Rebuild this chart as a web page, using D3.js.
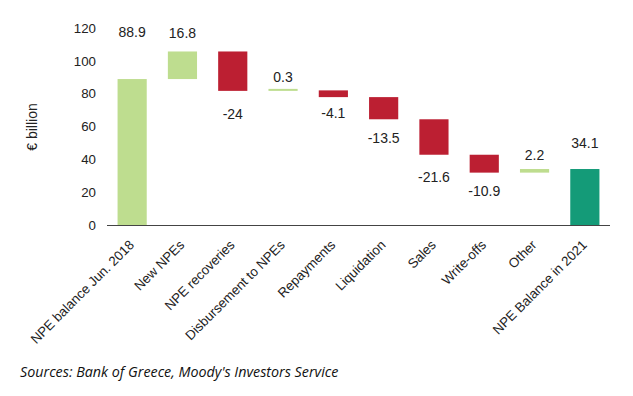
<!DOCTYPE html>
<html>
<head>
<meta charset="utf-8">
<script src="https://cdn.jsdelivr.net/npm/d3@7"></script>
<style>
  body { margin: 0; background: #fff; }
</style>
</head>
<body>
<svg id="chart"></svg>
<script>
var categories = ["NPE balance Jun. 2018", "New NPEs", "NPE recoveries", "Disbursement to NPEs",
  "Repayments", "Liquidation", "Sales", "Write-offs", "Other", "NPE Balance in 2021"];

// change per step, first and last are totals
var values = [88.9, 16.8, -24, 0.3, -4.1, -13.5, -21.6, -10.9, 2.2, 34.1];
var kinds = ["total", "up", "down", "up", "down", "down", "down", "down", "up", "end"];

// where the data labels sit, in € billion
var labelAt = [117.6, 117.1, 67.4, 90.2, 68, 53.2, 29.4, 20.7, 42.6, 49.8];

var yTicks = [0, 20, 40, 60, 80, 100, 120];

var colors = { total: "#bedd8f", up: "#bedd8f", down: "#bc1f32", end: "#149b78" };

var font = "'Liberation Sans', Arial, Helvetica, sans-serif";
var width = 633, height = 396;

var svg = d3.select("#chart").attr("width", width).attr("height", height);

var x = d3.scaleBand()
  .domain(categories)
  .range([107, 610])
  .paddingInner(0.42)
  .paddingOuter(0.21);

var y = d3.scaleLinear().domain([0, 120]).range([225, 28]);

// running totals for the floating bars
var bars = [];
var run = 0;
values.forEach(function(v, i) {
  var lo, hi;
  if (kinds[i] == "total" || kinds[i] == "end") {
    lo = 0; hi = v; run = v;
  } else {
    lo = Math.min(run, run + v);
    hi = Math.max(run, run + v);
    run = run + v;
  }
  bars.push({ name: categories[i], value: v, lo: lo, hi: hi, kind: kinds[i], label: labelAt[i] });
});

// y tick labels only, no axis line
var yAxis = svg.append("g")
  .attr("transform", "translate(101,0)")
  .call(d3.axisLeft(y).tickValues(yTicks).tickSize(0).tickPadding(5));
yAxis.select(".domain").remove();
yAxis.attr("font-family", font).attr("font-size", 13.3);
yAxis.selectAll("text").attr("fill", "#222");

svg.append("text")
  .attr("transform", "translate(37,127) rotate(-90)")
  .attr("text-anchor", "middle")
  .attr("font-family", font)
  .attr("font-size", 14)
  .attr("fill", "#222")
  .text("€ billion");

svg.append("g")
  .selectAll("rect")
  .data(bars)
  .enter().append("rect")
  .attr("x", function(d) { return x(d.name); })
  .attr("width", x.bandwidth())
  .attr("y", function(d) { return Math.min(y(d.hi), y(d.lo) - 2); })
  .attr("height", function(d) { return Math.max(y(d.lo) - y(d.hi), 2); })
  .attr("fill", function(d) { return colors[d.kind]; });

// x axis line
svg.append("line")
  .attr("x1", 107).attr("x2", 610)
  .attr("y1", y(0) + 0.5).attr("y2", y(0) + 0.5)
  .attr("stroke", "#444")
  .attr("stroke-width", 1.2);

svg.append("g")
  .selectAll("text")
  .data(bars)
  .enter().append("text")
  .attr("x", function(d) { return x(d.name) + x.bandwidth() / 2; })
  .attr("y", function(d) { return y(d.label); })
  .attr("dy", "0.35em")
  .attr("text-anchor", "middle")
  .attr("font-family", font)
  .attr("font-size", 14)
  .attr("fill", "#222")
  .text(function(d) { return d.value; });

// rotated category labels
svg.append("g")
  .selectAll("text")
  .data(categories)
  .enter().append("text")
  .attr("transform", function(d) {
    return "translate(" + (x(d) + x.bandwidth() / 2 - 4) + "," + (y(0) + 14) + ") rotate(-45)";
  })
  .attr("dy", "0.72em")
  .attr("text-anchor", "end")
  .attr("font-family", font)
  .attr("font-size", 13.3)
  .attr("fill", "#222")
  .text(function(d) { return d; });

svg.append("text")
  .attr("x", 20)
  .attr("y", 377)
  .attr("font-family", "'Open Sans', sans-serif")
  .attr("font-style", "italic")
  .attr("font-size", 14.3)
  .attr("fill", "#111")
  .text("Sources: Bank of Greece, Moody's Investors Service");
</script>
</body>
</html>
